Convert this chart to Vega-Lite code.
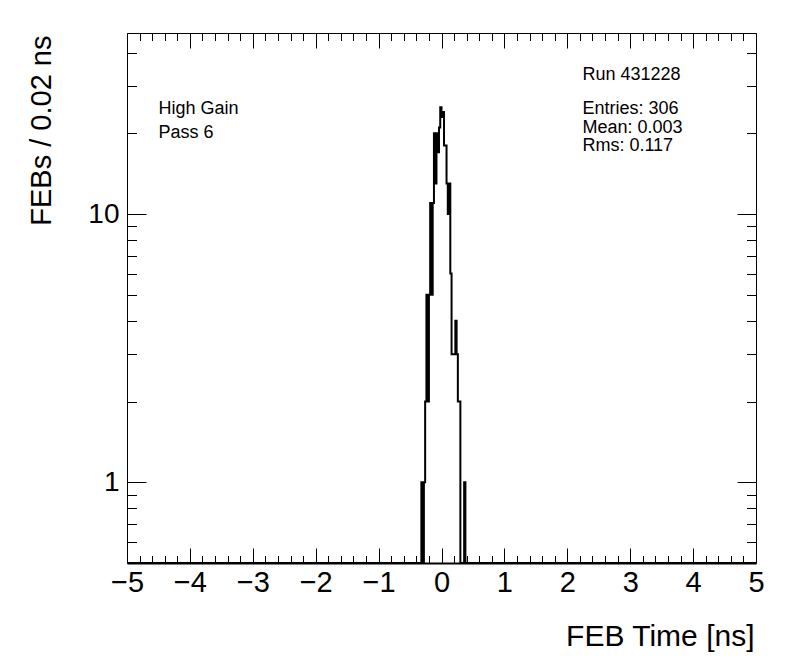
{
  "$schema": "https://vega.github.io/schema/vega-lite/v6.json",
  "width": 629,
  "height": 530,
  "autosize": "none",
  "padding": {"left": 127, "top": 33, "right": 40, "bottom": 109},
  "background": "white",
  "config": {
    "view": {"stroke": "black", "strokeWidth": 1},
    "font": "Liberation Sans",
    "axis": {"grid": false}
  },
  "datasets": {
    "hist": [
      {"t": -5, "n": 0},
      {"t": -0.34, "n": 0},
      {"t": -0.32, "n": 1},
      {"t": -0.30, "n": 0},
      {"t": -0.28, "n": 1},
      {"t": -0.26, "n": 2},
      {"t": -0.24, "n": 5},
      {"t": -0.22, "n": 2},
      {"t": -0.20, "n": 5},
      {"t": -0.18, "n": 11},
      {"t": -0.16, "n": 5},
      {"t": -0.14, "n": 11},
      {"t": -0.12, "n": 20},
      {"t": -0.10, "n": 13},
      {"t": -0.08, "n": 20},
      {"t": -0.06, "n": 17},
      {"t": -0.04, "n": 21},
      {"t": -0.02, "n": 25},
      {"t": 0.00, "n": 23},
      {"t": 0.02, "n": 24},
      {"t": 0.04, "n": 18},
      {"t": 0.06, "n": 18},
      {"t": 0.08, "n": 13},
      {"t": 0.10, "n": 10},
      {"t": 0.12, "n": 13},
      {"t": 0.14, "n": 6},
      {"t": 0.16, "n": 3},
      {"t": 0.18, "n": 3},
      {"t": 0.20, "n": 3},
      {"t": 0.22, "n": 4},
      {"t": 0.24, "n": 3},
      {"t": 0.26, "n": 2},
      {"t": 0.28, "n": 2},
      {"t": 0.30, "n": 0},
      {"t": 0.32, "n": 0},
      {"t": 0.34, "n": 0},
      {"t": 0.36, "n": 1},
      {"t": 0.38, "n": 0},
      {"t": 5, "n": 0}
    ]
  },
  "resolve": {"axis": {"x": "independent", "y": "independent"}},
  "layer": [
    {
      "data": {"name": "hist"},
      "mark": {"type": "line", "interpolate": "step-after", "color": "black", "strokeWidth": 2, "clip": true},
      "encoding": {
        "x": {
          "field": "t", "type": "quantitative",
          "scale": {"domain": [-5, 5], "nice": false, "zero": false},
          "axis": {
            "orient": "bottom",
            "values": [-5,-4.8,-4.6,-4.4,-4.2,-4,-3.8,-3.6,-3.4,-3.2,-3,-2.8,-2.6,-2.4,-2.2,-2,-1.8,-1.6,-1.4,-1.2,-1,-0.8,-0.6,-0.4,-0.2,0,0.2,0.4,0.6,0.8,1,1.2,1.4,1.6,1.8,2,2.2,2.4,2.6,2.8,3,3.2,3.4,3.6,3.8,4,4.2,4.4,4.6,4.8,5],
            "tickSize": {"condition": {"test": "abs(datum.value - round(datum.value)) < 0.001", "value": -15}, "value": -7.5},
            "tickColor": "black",
            "tickWidth": 1,
            "domain": true,
            "domainColor": "black",
            "domainWidth": 2,
            "labelExpr": "abs(datum.value - round(datum.value)) < 0.001 ? format(datum.value, 'd') : ''",
            "labelFontSize": 29,
            "labelColor": "black",
            "labelFont": "Liberation Sans",
            "labelPadding": 20,
            "labelOverlap": false,
            "labelFlush": false,
            "labelBaseline": "top",
            "title": "FEB Time [ns]",
            "titleFont": "Liberation Sans",
            "titleFontSize": 30,
            "titleFontWeight": "normal",
            "titleColor": "black",
            "titleX": 627,
            "titleY": 82,
            "titleAlign": "right",
            "titleBaseline": "alphabetic"
          }
        },
        "y": {
          "field": "n", "type": "quantitative",
          "scale": {"type": "log", "domain": [0.5, 47.3], "nice": false, "zero": false, "clamp": true},
          "axis": {
            "orient": "left",
            "values": [0.6, 0.7, 0.8, 0.9, 1, 2, 3, 4, 5, 6, 7, 8, 9, 10, 20, 30, 40],
            "tickSize": {"condition": {"test": "datum.value === 1 || datum.value === 10", "value": -19}, "value": -9.5},
            "tickColor": "black",
            "tickWidth": 1,
            "domain": false,
            "labelExpr": "datum.value === 1 || datum.value === 10 ? format(datum.value, 'd') : ''",
            "labelFontSize": 28,
            "labelColor": "black",
            "labelFont": "Liberation Sans",
            "labelPadding": 27,
            "labelOverlap": false,
            "labelFlush": false,
            "labelBaseline": "middle",
            "title": "FEBs / 0.02 ns",
            "titleFont": "Liberation Sans",
            "titleFontSize": 29,
            "titleFontWeight": "normal",
            "titleColor": "black",
            "titleAngle": -90,
            "titleX": -77,
            "titleY": 2,
            "titleAlign": "right",
            "titleBaseline": "alphabetic"
          }
        }
      }
    },
    {
      "data": {"name": "hist"},
      "mark": {"type": "line", "interpolate": "step-after", "color": "black", "strokeWidth": 2, "opacity": 0, "clip": true},
      "encoding": {
        "x": {
          "field": "t", "type": "quantitative",
          "axis": {
            "orient": "top",
            "values": [-5,-4.8,-4.6,-4.4,-4.2,-4,-3.8,-3.6,-3.4,-3.2,-3,-2.8,-2.6,-2.4,-2.2,-2,-1.8,-1.6,-1.4,-1.2,-1,-0.8,-0.6,-0.4,-0.2,0,0.2,0.4,0.6,0.8,1,1.2,1.4,1.6,1.8,2,2.2,2.4,2.6,2.8,3,3.2,3.4,3.6,3.8,4,4.2,4.4,4.6,4.8,5],
            "tickSize": {"condition": {"test": "abs(datum.value - round(datum.value)) < 0.001", "value": -15}, "value": -7.5},
            "tickColor": "black",
            "tickWidth": 1,
            "domain": false,
            "labels": false,
            "title": null
          }
        },
        "y": {
          "field": "n", "type": "quantitative",
          "axis": {
            "orient": "right",
            "values": [0.6, 0.7, 0.8, 0.9, 1, 2, 3, 4, 5, 6, 7, 8, 9, 10, 20, 30, 40],
            "tickSize": {"condition": {"test": "datum.value === 1 || datum.value === 10", "value": -19}, "value": -9.5},
            "tickColor": "black",
            "tickWidth": 1,
            "domain": false,
            "labels": false,
            "title": null
          }
        }
      }
    },
    {
      "data": {"values": [{"label": "High Gain"}]},
      "mark": {"type": "text", "align": "left", "baseline": "alphabetic", "fontSize": 18, "font": "Liberation Sans", "color": "black"},
      "encoding": {
        "x": {"datum": -4.5, "type": "quantitative", "axis": null},
        "y": {"datum": 23.6, "type": "quantitative", "axis": null},
        "text": {"field": "label"}
      }
    },
    {
      "data": {"values": [{"label": "Pass 6"}]},
      "mark": {"type": "text", "align": "left", "baseline": "alphabetic", "fontSize": 18, "font": "Liberation Sans", "color": "black"},
      "encoding": {
        "x": {"datum": -4.5, "type": "quantitative", "axis": null},
        "y": {"datum": 19.15, "type": "quantitative", "axis": null},
        "text": {"field": "label"}
      }
    },
    {
      "data": {"values": [{"label": "Run 431228"}]},
      "mark": {"type": "text", "align": "left", "baseline": "alphabetic", "fontSize": 18, "font": "Liberation Sans", "color": "black"},
      "encoding": {
        "x": {"datum": 2.24, "type": "quantitative", "axis": null},
        "y": {"datum": 31.6, "type": "quantitative", "axis": null},
        "text": {"field": "label"}
      }
    },
    {
      "data": {"values": [{"label": "Entries: 306"}]},
      "mark": {"type": "text", "align": "left", "baseline": "alphabetic", "fontSize": 18, "font": "Liberation Sans", "color": "black"},
      "encoding": {
        "x": {"datum": 2.24, "type": "quantitative", "axis": null},
        "y": {"datum": 23.7, "type": "quantitative", "axis": null},
        "text": {"field": "label"}
      }
    },
    {
      "data": {"values": [{"label": "Mean: 0.003"}]},
      "mark": {"type": "text", "align": "left", "baseline": "alphabetic", "fontSize": 18, "font": "Liberation Sans", "color": "black"},
      "encoding": {
        "x": {"datum": 2.24, "type": "quantitative", "axis": null},
        "y": {"datum": 20.0, "type": "quantitative", "axis": null},
        "text": {"field": "label"}
      }
    },
    {
      "data": {"values": [{"label": "Rms: 0.117"}]},
      "mark": {"type": "text", "align": "left", "baseline": "alphabetic", "fontSize": 18, "font": "Liberation Sans", "color": "black"},
      "encoding": {
        "x": {"datum": 2.24, "type": "quantitative", "axis": null},
        "y": {"datum": 17.2, "type": "quantitative", "axis": null},
        "text": {"field": "label"}
      }
    }
  ]
}
